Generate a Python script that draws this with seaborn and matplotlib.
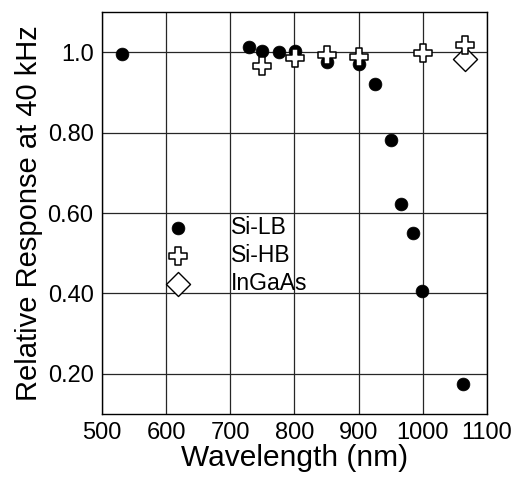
import matplotlib
matplotlib.use("Agg")
import matplotlib.pyplot as plt
import seaborn as sns
import pandas as pd

# Si-LB (filled circles)
silb_wl = [532, 730, 750, 776, 801, 850, 901, 926, 950, 966, 985, 999, 1063]
silb_resp = [0.995, 1.012, 1.003, 1.001, 1.003, 0.975, 0.970, 0.921, 0.781, 0.622, 0.551, 0.405, 0.174]

# Si-HB (open crosses)
sihb_wl = [750, 801, 850, 901, 1000, 1065]
sihb_resp = [0.966, 0.986, 0.993, 0.988, 0.998, 1.017]

# InGaAs (open diamond)
ingaas_wl = [1065]
ingaas_resp = [0.984]

x_ticks = [500, 600, 700, 800, 900, 1000, 1100]
y_ticks = [0.20, 0.40, 0.60, 0.80, 1.0]
y_tick_labels = ["0.20", "0.40", "0.60", "0.80", "1.0"]

sns.set_style("white")
plt.rcParams['font.family'] = ['Liberation Sans', 'DejaVu Sans']
plt.rcParams['text.color'] = 'black'
plt.rcParams['axes.labelcolor'] = 'black'
plt.rcParams['xtick.color'] = 'black'
plt.rcParams['ytick.color'] = 'black'

fig = plt.figure(figsize=(5.17, 4.83), dpi=100)
ax = fig.add_axes([0.197, 0.143, 0.745, 0.832])

silb = pd.DataFrame({"wl": silb_wl, "resp": silb_resp})
sihb = pd.DataFrame({"wl": sihb_wl, "resp": sihb_resp})
ing = pd.DataFrame({"wl": ingaas_wl, "resp": ingaas_resp})

sns.scatterplot(data=silb, x="wl", y="resp", marker="o", s=85, color="black",
                edgecolor="black", linewidth=0.5, label="Si-LB", ax=ax, zorder=3)
sns.scatterplot(data=ing, x="wl", y="resp", marker="D", s=150, facecolor="white",
                edgecolor="black", linewidth=1.0, label="InGaAs", ax=ax, zorder=4)
sns.scatterplot(data=sihb, x="wl", y="resp", marker="P", s=170, facecolor="white",
                edgecolor="black", linewidth=1.1, label="Si-HB", ax=ax, zorder=5)

ax.set_xlim(500, 1100)
ax.set_ylim(0.10, 1.10)
ax.set_xticks(x_ticks)
ax.set_yticks(y_ticks)
ax.set_yticklabels(y_tick_labels)

ax.grid(True, color="0.15", linewidth=0.9)
ax.set_axisbelow(True)
for sp in ax.spines.values():
    sp.set_color("black")
    sp.set_linewidth(1.0)

ax.tick_params(axis="both", labelsize=17, direction="in", length=0, pad=6)
ax.set_xlabel("Wavelength (nm)", fontsize=21.5, labelpad=0)
ax.set_ylabel("Relative Response at 40 kHz", fontsize=21, labelpad=3)

handles, labels = ax.get_legend_handles_labels()
order = [labels.index(l) for l in ["Si-LB", "Si-HB", "InGaAs"]]
ax.legend([handles[i] for i in order], [labels[i] for i in order],
          loc="upper left", bbox_to_anchor=(0.115, 0.515), frameon=False,
          fontsize=16.5, handletextpad=1.3, labelspacing=0.22, borderaxespad=0)

fig.savefig("out.png", dpi=100, facecolor="white")
